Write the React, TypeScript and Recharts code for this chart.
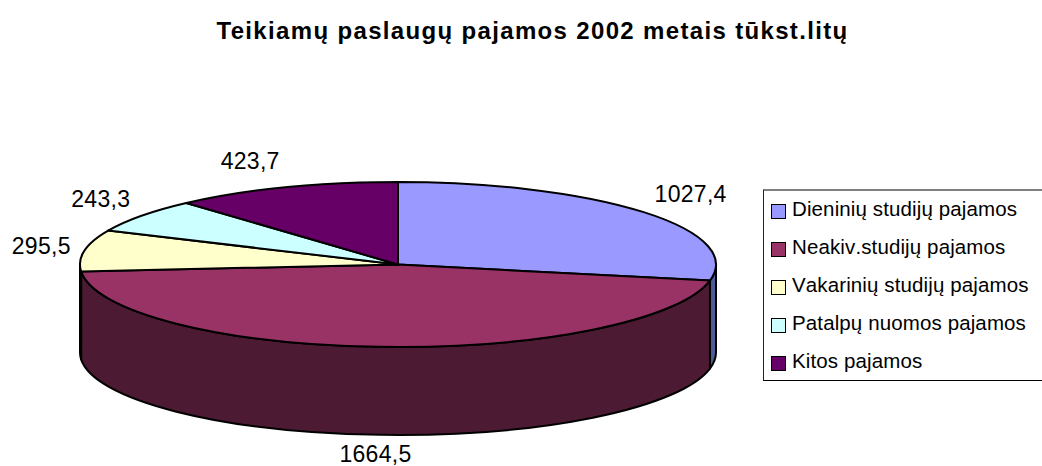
import { Legend, Pie, PieChart } from "recharts";

const categories = [
  "Dieninių studijų pajamos",
  "Neakiv.studijų pajamos",
  "Vakarinių studijų pajamos",
  "Patalpų nuomos pajamos",
  "Kitos pajamos",
];
const values = [1027.4, 1664.5, 295.5, 243.3, 423.7];
const topColors = ["#9999ff", "#993366", "#ffffcc", "#ccffff", "#660066"];
const wallColors = ["#4d5a99", "#4d1a33", "#80805f", "#5f8080", "#330033"];

const FONT = "'Liberation Sans', Arial, sans-serif";
const RY_RATIO = 82.5 / 318;
const DEPTH = 88;
const OUTLINE = "#000";

const rows = categories.map((name, i) => ({
  name,
  value: values[i],
  fill: topColors[i],
  wall: wallColors[i],
}));

const formatValue = (v: number) => v.toFixed(1).replace(".", ",");

// the pie is a flat circle for recharts, so squash it into an ellipse here
function PieSlice3D(props: any) {
  const { cx, cy, outerRadius: rx, startAngle, endAngle, fill, payload } = props;
  const ry = rx * RY_RATIO;
  const at = (deg: number, drop = 0) => {
    const r = (deg * Math.PI) / 180;
    return `${cx + rx * Math.cos(r)} ${cy - ry * Math.sin(r) + drop}`;
  };
  const large = Math.abs(startAngle - endAngle) > 180 ? 1 : 0;

  // the wall shows only on the front half, -180..0 in recharts degrees
  const wallFrom = Math.min(startAngle, 0);
  const wallTo = Math.max(endAngle, -180);
  const hasWall = wallFrom > wallTo;

  return (
    <g>
      {hasWall && (
        <path
          d={`M ${at(wallFrom)} A ${rx} ${ry} 0 0 1 ${at(wallTo)} L ${at(wallTo, DEPTH)} A ${rx} ${ry} 0 0 0 ${at(wallFrom, DEPTH)} Z`}
          fill={payload.wall}
          stroke={OUTLINE}
          strokeWidth={2}
          strokeLinejoin="round"
        />
      )}
      <path
        d={`M ${cx} ${cy} L ${at(startAngle)} A ${rx} ${ry} 0 ${large} 1 ${at(endAngle)} Z`}
        fill={fill}
        stroke={OUTLINE}
        strokeWidth={2}
        strokeLinejoin="round"
      />
    </g>
  );
}

function SliceLabel(props: any) {
  const { cx, cy, outerRadius: rx, midAngle, value } = props;
  const r = (midAngle * Math.PI) / 180;
  const sin = Math.sin(r);
  const cos = Math.cos(r);
  const ry = rx * RY_RATIO;
  const isBottom = Math.abs(cos) < 0.2;
  const x = cx + rx * cos + cos * 14 - (isBottom ? 4 : 0);
  const y = cy - ry * sin - sin * (sin < 0 ? 19 : 28) + (sin < 0 ? DEPTH : 0);
  const anchor = isBottom ? "middle" : cos > 0 ? "start" : "end";
  return (
    <text
      x={x}
      y={y}
      textAnchor={anchor}
      dominantBaseline="central"
      fontFamily={FONT}
      fontSize={23}
      letterSpacing={0.3}
      fill="#000"
    >
      {formatValue(value)}
    </text>
  );
}

function BoxLegend({ payload }: any) {
  return (
    <div
      style={{
        boxSizing: "border-box",
        width: 290,
        height: 192,
        borderTop: "2px solid #808080",
        borderLeft: "1px solid #222",
        borderBottom: "1px solid #000",
        fontFamily: FONT,
        fontSize: 20.5,
        letterSpacing: 0.12,
        fontKerning: "none",
        color: "#000",
      }}
    >
      {(payload ?? []).map((item: any, i: number) => (
        <div key={item.value} style={{ display: "flex", alignItems: "center", height: 38, marginLeft: 7 }}>
          <span
            style={{
              display: "inline-block",
              boxSizing: "border-box",
              width: 15,
              height: 15,
              marginTop: 2,
              marginRight: 6,
              background: topColors[i],
              border: "1.5px solid #000",
            }}
          />
          <span style={{ whiteSpace: "nowrap", position: "relative", top: -1.5 }}>{item.value}</span>
        </div>
      ))}
    </div>
  );
}

export default function App() {
  return (
    <div style={{ position: "absolute", left: 0, top: 0, width: 1042, height: 466, overflow: "hidden", background: "#fff" }}>
      <PieChart width={1042} height={466} margin={{ top: 0, right: 0, bottom: 0, left: 0 }}>
        <text
          x={532.5}
          y={30}
          textAnchor="middle"
          dominantBaseline="central"
          fontFamily={FONT}
          fontSize={24}
          fontWeight={700}
          letterSpacing={1.34}
          fill="#000"
        >
          Teikiamų paslaugų pajamos 2002 metais tūkst.litų
        </text>
        <Pie
          data={rows}
          dataKey="value"
          nameKey="name"
          cx={398}
          cy={264.5}
          outerRadius={318}
          startAngle={90}
          endAngle={-270}
          stroke="none"
          labelLine={false}
          label={SliceLabel}
          shape={PieSlice3D}
          isAnimationActive={false}
        />
        <Legend
          content={BoxLegend}
          layout="vertical"
          itemSorter={null}
          wrapperStyle={{ position: "absolute", left: 763, top: 189, width: 290, bottom: "auto" }}
        />
      </PieChart>
    </div>
  );
}
